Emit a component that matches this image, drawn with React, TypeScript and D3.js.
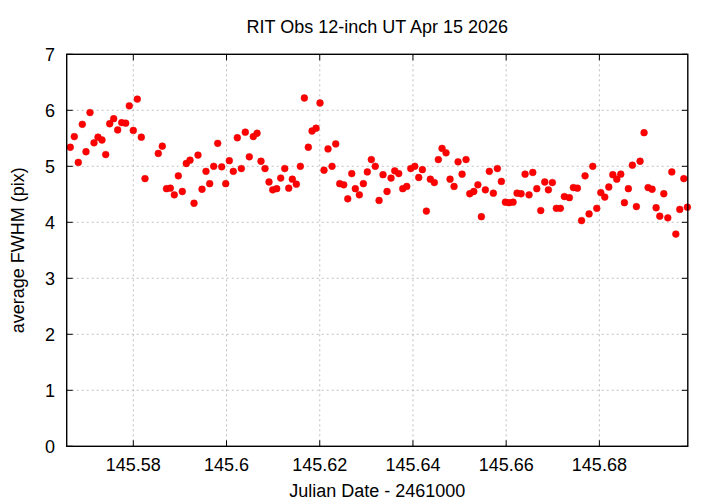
import React from "react";
import * as d3 from "d3";

const title = "RIT Obs 12-inch UT Apr 15 2026";
const xLabel = "Julian Date - 2461000";
const yLabel = "average FWHM (pix)";

const xTicks = [145.58, 145.6, 145.62, 145.64, 145.66, 145.68];
const xTickLabels = ["145.58", "145.6", "145.62", "145.64", "145.66", "145.68"];
const yTicks = [0, 1, 2, 3, 4, 5, 6, 7];
const xDomain = [145.56571, 145.69897];
const yDomain = [0, 7];

const jd = [
  145.56648, 145.56734, 145.5682, 145.56906, 145.56985, 145.57071, 145.57157, 145.57243, 145.57328, 145.57408,
  145.57494, 145.57579, 145.57665, 145.57751, 145.57837, 145.57914, 145.58, 145.58086, 145.58172, 145.58251,
  145.58536, 145.58622, 145.58712, 145.58794, 145.5888, 145.58966, 145.59051, 145.59137, 145.59217, 145.59303,
  145.59388, 145.59474, 145.5956, 145.59639, 145.59725, 145.59811, 145.59897, 145.59983, 145.6006, 145.60146,
  145.60232, 145.60318, 145.60403, 145.60489, 145.60575, 145.60655, 145.6074, 145.60826, 145.60912, 145.60991,
  145.61077, 145.61163, 145.61249, 145.61335, 145.61412, 145.61498, 145.61584, 145.6167, 145.61755, 145.61835,
  145.61921, 145.62006, 145.62092, 145.62178, 145.62264, 145.62343, 145.62429, 145.62515, 145.62601, 145.62687,
  145.62764, 145.6285, 145.62936, 145.63021, 145.63107, 145.63191, 145.63273, 145.63358, 145.63444, 145.6353,
  145.63609, 145.63695, 145.63781, 145.63867, 145.63953, 145.64039, 145.64124, 145.64202, 145.64288, 145.64373,
  145.64459, 145.64545, 145.64624, 145.6471, 145.64796, 145.64882, 145.64968, 145.65054, 145.65139, 145.65219,
  145.65305, 145.65393, 145.65468, 145.65554, 145.65639, 145.65725, 145.65811, 145.65897, 145.65983, 145.66062,
  145.66148, 145.66234, 145.6632, 145.66406, 145.66491, 145.66571, 145.66657, 145.66742, 145.66828, 145.66906,
  145.66991, 145.67077, 145.67163, 145.67249, 145.67356, 145.67442, 145.67528, 145.67618, 145.67693, 145.67779,
  145.67858, 145.67944, 145.6803, 145.68116, 145.68202, 145.68288, 145.68373, 145.68459, 145.68537, 145.68622,
  145.68708, 145.68794, 145.68873, 145.68959, 145.69045, 145.69131, 145.69217, 145.69296, 145.69382, 145.69468,
  145.69554, 145.6964, 145.69725, 145.69811, 145.69888,
];

const fwhm = [
  5.34, 5.53, 5.07, 5.75, 5.26, 5.96, 5.42, 5.52, 5.47, 5.21,
  5.76, 5.85, 5.65, 5.78, 5.77, 6.08, 5.64, 6.2, 5.52, 4.78,
  5.23, 5.36, 4.6, 4.61, 4.49, 4.83, 4.55, 5.05, 5.11, 4.34,
  5.2, 4.59, 4.91, 4.69, 5.0, 5.41, 4.99, 4.69, 5.1, 4.91,
  5.51, 4.96, 5.61, 5.17, 5.53, 5.59, 5.09, 4.96, 4.72, 4.58,
  4.6, 4.79, 4.96, 4.61, 4.77, 4.68, 5.0, 6.22, 5.34, 5.63,
  5.68, 6.13, 4.93, 5.31, 5.0, 5.4, 4.69, 4.67, 4.42, 4.87,
  4.6, 4.49, 4.69, 4.9, 5.12, 5.0, 4.39, 4.85, 4.55, 4.79,
  4.92, 4.87, 4.6, 4.64, 4.96, 5.0, 4.8, 4.94, 4.2, 4.77,
  4.71, 5.12, 5.32, 5.24, 4.77, 4.64, 5.08, 4.86, 5.12, 4.51,
  4.55, 4.67, 4.1, 4.58, 4.91, 4.52, 4.96, 4.73, 4.36, 4.35,
  4.36, 4.52, 4.51, 4.86, 4.49, 4.89, 4.6, 4.21, 4.72, 4.58,
  4.71, 4.25, 4.25, 4.46, 4.44, 4.62, 4.61, 4.03, 4.83, 4.15,
  5.0, 4.25, 4.53, 4.45, 4.63, 4.85, 4.77, 4.86, 4.35, 4.6,
  5.02, 4.28, 5.09, 5.6, 4.62, 4.59, 4.26, 4.11, 4.51, 4.08,
  4.9, 3.79, 4.23, 4.78, 4.27,
];

const W = 720;
const H = 504;
const left = 66.7;
const right = 687.8;
const top = 54.3;
const bottom = 446.3;
const font = "'Liberation Sans', Arial, sans-serif";

export default function App() {
  const x = d3.scaleLinear().domain(xDomain).range([left, right]);
  const y = d3.scaleLinear().domain(yDomain).range([bottom, top]);
  const tick = 6;
  return (
    <svg width={W} height={H} style={{ position: "absolute", left: 0, top: 0, background: "#fff" }} fontFamily={font}>
      <rect x={0} y={0} width={W} height={H} fill="#fff" />
      {xTicks.map((t) => (
        <line key={"gx" + t} x1={x(t)} x2={x(t)} y1={top} y2={bottom} stroke="#b0b0b0" strokeWidth={0.8} strokeDasharray="2,3" />
      ))}
      {yTicks.slice(1, -1).map((t) => (
        <line key={"gy" + t} x1={left} x2={right} y1={y(t)} y2={y(t)} stroke="#b0b0b0" strokeWidth={0.8} strokeDasharray="2,3" />
      ))}
      {xTicks.map((t) => (
        <g key={"tx" + t}>
          <line x1={x(t)} x2={x(t)} y1={bottom} y2={bottom - tick} stroke="#000" strokeWidth={1} />
          <line x1={x(t)} x2={x(t)} y1={top} y2={top + tick} stroke="#000" strokeWidth={1} />
        </g>
      ))}
      {yTicks.map((t) => (
        <g key={"ty" + t}>
          <line x1={left} x2={left + tick} y1={y(t)} y2={y(t)} stroke="#000" strokeWidth={1} />
          <line x1={right} x2={right - tick} y1={y(t)} y2={y(t)} stroke="#000" strokeWidth={1} />
        </g>
      ))}
      {jd.map((d, i) => (
        <circle key={i} cx={x(d)} cy={y(fwhm[i])} r={3.4} fill="#ff0000" stroke="#e00000" strokeWidth={0.5} />
      ))}
      <rect x={left} y={top} width={right - left} height={bottom - top} fill="none" stroke="#000" strokeWidth={1.4} />
      {xTicks.map((t, i) => (
        <text key={"lx" + t} x={x(t)} y={470.5} fontSize={18} textAnchor="middle">
          {xTickLabels[i]}
        </text>
      ))}
      {yTicks.map((t) => (
        <text key={"ly" + t} x={55} y={y(t) + 6.5} fontSize={18} textAnchor="end">
          {t}
        </text>
      ))}
      <text x={(left + right) / 2} y={33} fontSize={18} textAnchor="middle">
        {title}
      </text>
      <text x={(left + right) / 2} y={497} fontSize={18} textAnchor="middle">
        {xLabel}
      </text>
      <text transform={`translate(24, ${(top + bottom) / 2}) rotate(-90)`} fontSize={18} textAnchor="middle">
        {yLabel}
      </text>
    </svg>
  );
}
